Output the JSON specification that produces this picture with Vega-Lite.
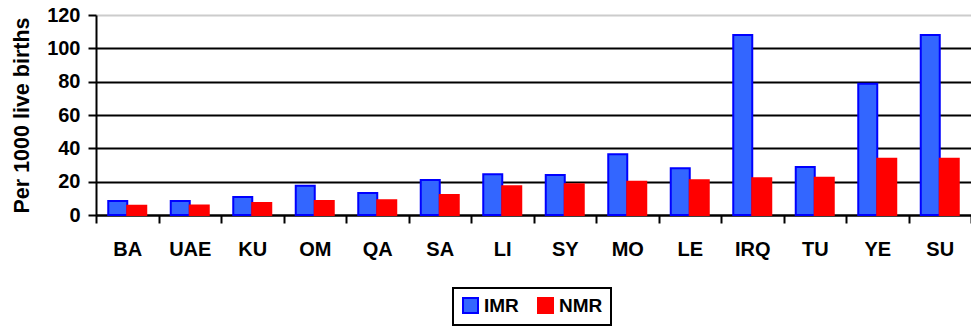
{
  "$schema": "https://vega.github.io/schema/vega-lite/v6.json",
  "autosize": "none",
  "padding": {"left": 96, "top": 15, "right": 0, "bottom": 114},
  "width": 875,
  "height": 200,
  "background": "white",
  "config": {
    "font": "Liberation Sans",
    "view": {"stroke": null},
    "legend": {"strokeWidth": 2}
  },
  "data": {
    "values": [
      {"country": "BA", "measure": "IMR", "rate": 8.4},
      {"country": "BA", "measure": "NMR", "rate": 5.6},
      {"country": "UAE", "measure": "IMR", "rate": 8.4},
      {"country": "UAE", "measure": "NMR", "rate": 5.7},
      {"country": "KU", "measure": "IMR", "rate": 10.8},
      {"country": "KU", "measure": "NMR", "rate": 7.2},
      {"country": "OM", "measure": "IMR", "rate": 17.6},
      {"country": "OM", "measure": "NMR", "rate": 8.4},
      {"country": "QA", "measure": "IMR", "rate": 13.2},
      {"country": "QA", "measure": "NMR", "rate": 8.8},
      {"country": "SA", "measure": "IMR", "rate": 21},
      {"country": "SA", "measure": "NMR", "rate": 12},
      {"country": "LI", "measure": "IMR", "rate": 24.4},
      {"country": "LI", "measure": "NMR", "rate": 17.2},
      {"country": "SY", "measure": "IMR", "rate": 24},
      {"country": "SY", "measure": "NMR", "rate": 18.4},
      {"country": "MO", "measure": "IMR", "rate": 36.4},
      {"country": "MO", "measure": "NMR", "rate": 20},
      {"country": "LE", "measure": "IMR", "rate": 28},
      {"country": "LE", "measure": "NMR", "rate": 20.8},
      {"country": "IRQ", "measure": "IMR", "rate": 108},
      {"country": "IRQ", "measure": "NMR", "rate": 22},
      {"country": "TU", "measure": "IMR", "rate": 28.8},
      {"country": "TU", "measure": "NMR", "rate": 22.4},
      {"country": "YE", "measure": "IMR", "rate": 78.8},
      {"country": "YE", "measure": "NMR", "rate": 33.8},
      {"country": "SU", "measure": "IMR", "rate": 108},
      {"country": "SU", "measure": "NMR", "rate": 33.8}
    ]
  },
  "mark": {"type": "bar", "strokeWidth": 2},
  "encoding": {
    "x": {
      "field": "country",
      "type": "nominal",
      "sort": null,
      "scale": {"paddingInner": 0, "paddingOuter": 0},
      "axis": {
        "title": null,
        "labelAngle": 0,
        "labelFont": "Liberation Sans",
        "labelFontWeight": "bold",
        "labelFontSize": 20,
        "labelColor": "black",
        "labelPadding": 16,
        "tickBand": "extent",
        "tickColor": "black",
        "tickSize": 8,
        "tickWidth": 2,
        "domainColor": "black",
        "domainWidth": 2,
        "grid": false
      }
    },
    "xOffset": {
      "field": "measure",
      "type": "nominal",
      "scale": {"paddingInner": 0, "paddingOuter": 0.645}
    },
    "y": {
      "field": "rate",
      "type": "quantitative",
      "scale": {"domain": [0, 120], "nice": false},
      "axis": {
        "title": "Per 1000 live births",
        "titleFont": "Liberation Sans",
        "titleFontWeight": "bold",
        "titleFontSize": 21.5,
        "titleColor": "black",
        "titlePadding": 13,
        "values": [0, 20, 40, 60, 80, 100, 120],
        "labelFont": "Liberation Sans",
        "labelFontWeight": "bold",
        "labelFontSize": 20,
        "labelColor": "black",
        "labelPadding": 8,
        "tickColor": "black",
        "tickSize": 8,
        "tickWidth": 2,
        "domainColor": "black",
        "domainWidth": 2,
        "grid": true,
        "gridColor": {"condition": {"test": "datum.value === 120", "value": "#cccccc"}, "value": "black"},
        "gridWidth": 2
      }
    },
    "color": {
      "field": "measure",
      "type": "nominal",
      "scale": {"domain": ["IMR", "NMR"], "range": ["#3366ff", "#ff0000"]},
      "legend": {
        "title": null,
        "orient": "none",
        "direction": "horizontal",
        "legendX": 357,
        "legendY": 273,
        "strokeColor": "black",
        "fillColor": "white",
        "padding": 8,
        "symbolType": "square",
        "symbolSize": 225,
        "symbolStrokeWidth": 2,
        "symbolOpacity": 1,
        "labelFont": "Liberation Sans",
        "labelFontWeight": "bold",
        "labelFontSize": 19,
        "labelColor": "black",
        "labelOffset": 4,
        "columnPadding": 15
      }
    },
    "stroke": {
      "field": "measure",
      "type": "nominal",
      "scale": {"domain": ["IMR", "NMR"], "range": ["#0000ff", "#ff0000"]},
      "legend": null
    }
  }
}
